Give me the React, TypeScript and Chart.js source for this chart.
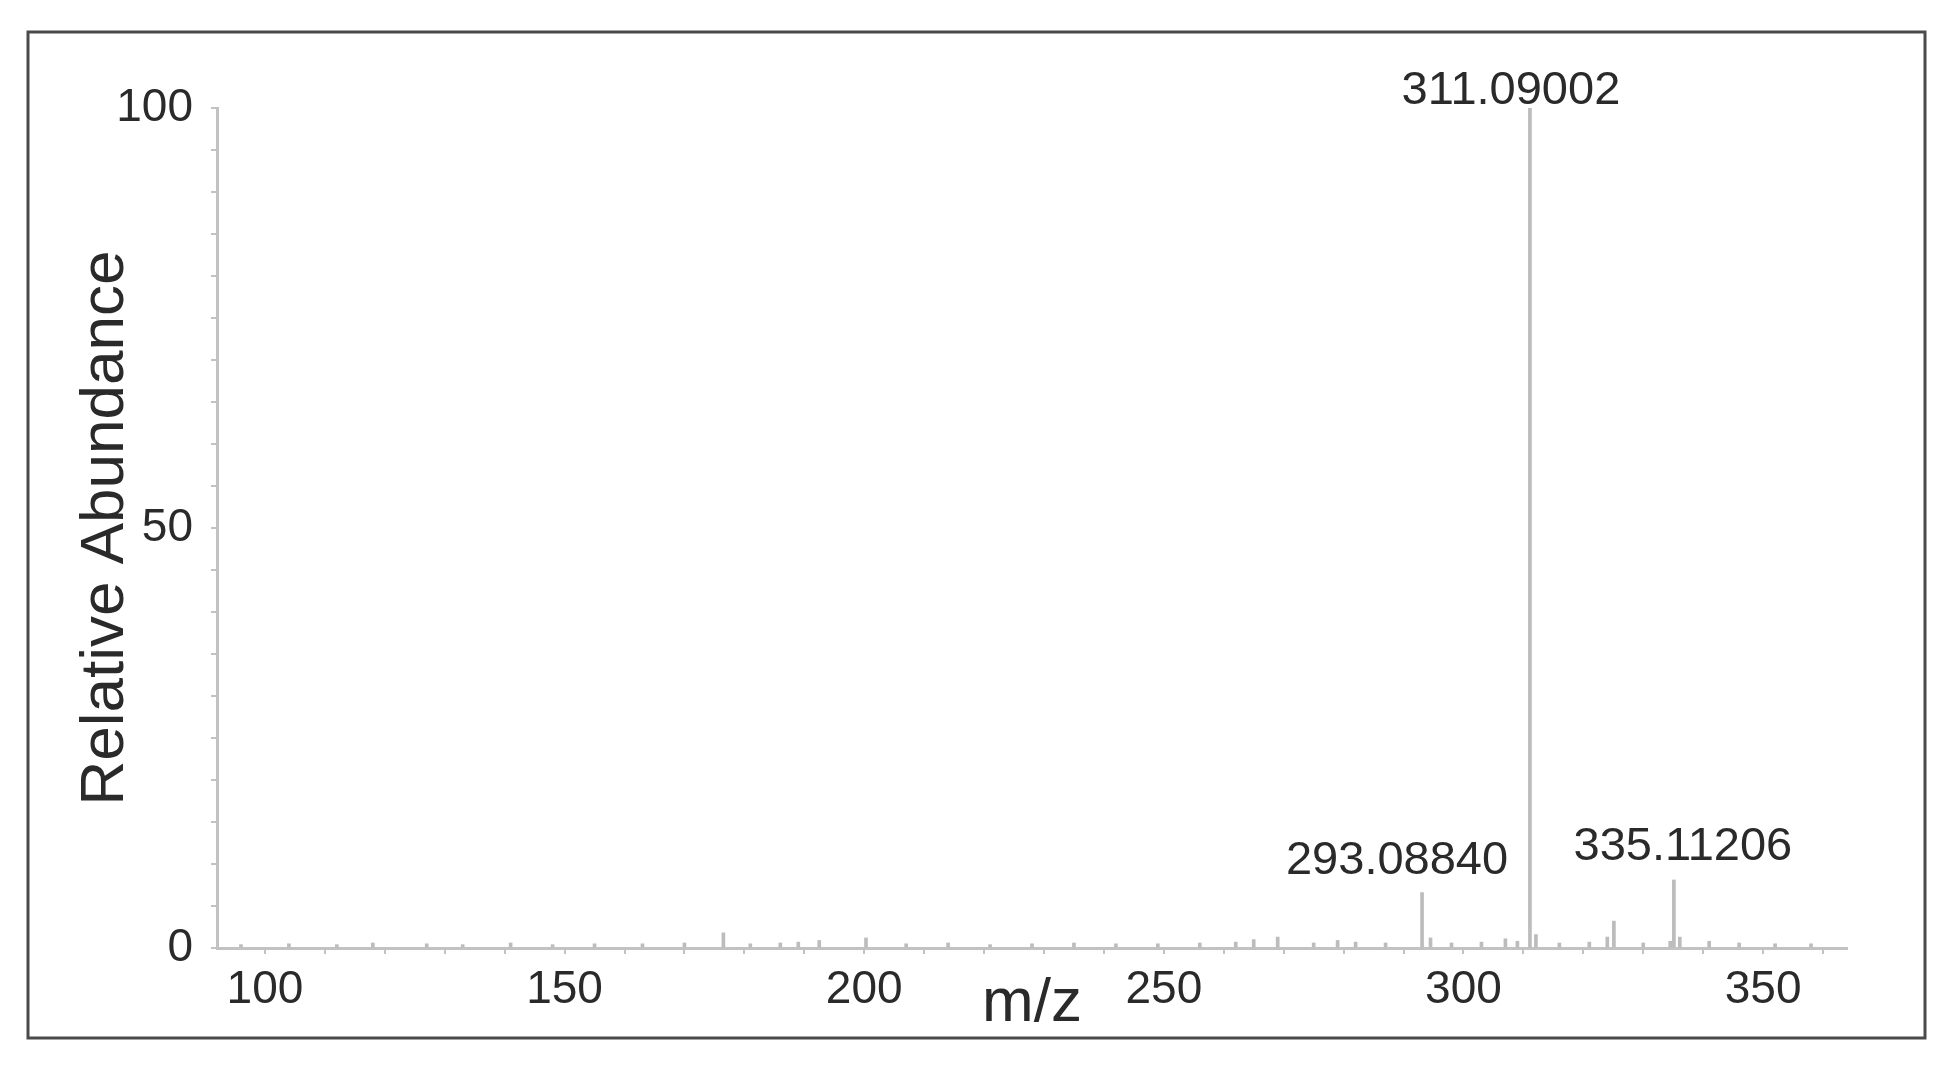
import React, { useEffect, useRef } from "react";
import { Chart, registerables } from "chart.js";

Chart.register(...registerables);

// Spectrum sticks (m/z, relative abundance %)
const mzValues = [
  96, 104, 112, 118, 127, 133, 141, 148, 155, 163, 170, 176.5, 181, 186, 189, 192.5,
  200.3, 207, 214, 221, 228, 235, 242, 249, 256, 262, 265, 269, 275, 279, 282, 287,
  293.0884, 294.5, 298, 303, 307, 309, 311.09002, 312.09, 316, 321, 324, 325.1, 330,
  334.5, 335.11206, 336.1, 341, 346, 352, 358,
];
const abundanceValues = [
  0.4, 0.5, 0.4, 0.6, 0.5, 0.4, 0.6, 0.4, 0.5, 0.5, 0.6, 1.8, 0.5, 0.6, 0.7, 0.9,
  1.2, 0.5, 0.6, 0.4, 0.5, 0.6, 0.5, 0.5, 0.6, 0.7, 1.0, 1.3, 0.6, 0.9, 0.7, 0.6,
  6.6, 1.2, 0.6, 0.7, 1.1, 0.8, 100, 1.6, 0.6, 0.7, 1.3, 3.2, 0.6,
  0.8, 8.1, 1.3, 0.8, 0.6, 0.5, 0.5,
];

// Annotated peaks
const peakLabelMz = [311.09002, 293.0884, 335.11206];
const peakLabelAbundance = [100, 6.6, 8.1];
const peakLabelText = ["311.09002", "293.08840", "335.11206"];

// Axis ticks and labels
const xTickMarks = [
  100, 110, 120, 130, 140, 150, 160, 170, 180, 190, 200, 210, 220, 230, 240,
  250, 260, 270, 280, 290, 300, 310, 320, 330, 340, 350, 360,
];
const xLabelTicks = [100, 150, 200, 250, 300, 350];
const yLabelTicks = [0, 50, 100];
const xTitle = "m/z";
const yTitle = "Relative Abundance";

const FONT = '"Liberation Sans", Arial, Helvetica, sans-serif';
const TEXT_COLOR = "#2a2a2a";
const AXIS_COLOR = "#c2c2c2";

const framePlugin = {
  id: "frame",
  beforeDraw(chart: any) {
    const ctx = chart.ctx;
    ctx.save();
    ctx.fillStyle = "#ffffff";
    ctx.fillRect(0, 0, chart.width, chart.height);
    ctx.strokeStyle = "#4a4a4a";
    ctx.lineWidth = 3;
    ctx.strokeRect(28, 32, 1897, 1006);
    ctx.restore();
  },
};

const peakLabelPlugin = {
  id: "peakLabels",
  afterDatasetsDraw(chart: any) {
    const ctx = chart.ctx;
    const xs = chart.scales.x;
    const ys = chart.scales.y;
    const offsets = [
      [-19, -4],
      [-25, -19],
      [9, -20],
    ];
    ctx.save();
    ctx.font = `47px ${FONT}`;
    ctx.fillStyle = TEXT_COLOR;
    ctx.textAlign = "center";
    ctx.textBaseline = "alphabetic";
    peakLabelText.forEach((t, i) => {
      const px = xs.getPixelForValue(peakLabelMz[i]) + offsets[i][0];
      const py = ys.getPixelForValue(peakLabelAbundance[i]) + offsets[i][1];
      ctx.fillText(t, px, py);
    });
    ctx.restore();
  },
};

export default function App() {
  const canvasRef = useRef<HTMLCanvasElement | null>(null);

  useEffect(() => {
    document.body.style.margin = "0";
    const canvas = canvasRef.current;
    if (!canvas) return;
    const chart = new Chart(canvas, {
      type: "bar",
      data: {
        datasets: [
          {
            data: mzValues.map((m, i) => ({ x: m, y: abundanceValues[i] })),
            backgroundColor: "#bcbcbc",
            borderWidth: 0,
            barThickness: 3,
            grouped: false,
          } as any,
        ],
      },
      options: {
        responsive: false,
        animation: false,
        devicePixelRatio: 1,
        layout: { padding: { left: 0, top: 108, right: 101, bottom: 0 } },
        plugins: {
          legend: { display: false },
          tooltip: { enabled: false },
        },
        scales: {
          x: {
            type: "linear",
            min: 92,
            max: 364,
            offset: false,
            afterBuildTicks(scale: any) {
              scale.ticks = xTickMarks.map((v) => ({ value: v }));
            },
            afterFit(scale: any) {
              scale.height = 132;
            },
            border: { display: true, color: AXIS_COLOR, width: 3 },
            grid: {
              display: true,
              offset: false,
              drawOnChartArea: false,
              drawTicks: true,
              tickLength: 6,
              color: AXIS_COLOR,
              lineWidth: 2,
            },
            ticks: {
              autoSkip: false,
              maxRotation: 0,
              padding: 9,
              color: TEXT_COLOR,
              font: { family: FONT, size: 46 },
              callback: (v: any) => (xLabelTicks.includes(Number(v)) ? String(v) : ""),
            },
            title: {
              display: true,
              text: xTitle,
              color: TEXT_COLOR,
              font: { family: FONT, size: 62 },
              padding: { top: 0, bottom: 39 },
            },
          },
          y: {
            type: "linear",
            min: 0,
            max: 100,
            afterFit(scale: any) {
              scale.width = 217;
            },
            border: { display: true, color: AXIS_COLOR, width: 3 },
            grid: {
              display: true,
              drawOnChartArea: false,
              drawTicks: true,
              tickLength: 6,
              color: AXIS_COLOR,
              lineWidth: 2,
            },
            ticks: {
              stepSize: 5,
              autoSkip: false,
              padding: 18,
              color: TEXT_COLOR,
              font: { family: FONT, size: 46 },
              callback: (v: any) => (yLabelTicks.includes(Number(v)) ? String(v) : ""),
            },
            title: {
              display: true,
              text: yTitle,
              color: TEXT_COLOR,
              font: { family: FONT, size: 62 },
              padding: { top: 69, bottom: 0 },
            },
          },
        },
      },
      plugins: [framePlugin, peakLabelPlugin],
    });
    return () => chart.destroy();
  }, []);

  return (
    <canvas
      ref={canvasRef}
      width={1948}
      height={1080}
      style={{ display: "block", width: "1948px", height: "1080px" }}
    />
  );
}
